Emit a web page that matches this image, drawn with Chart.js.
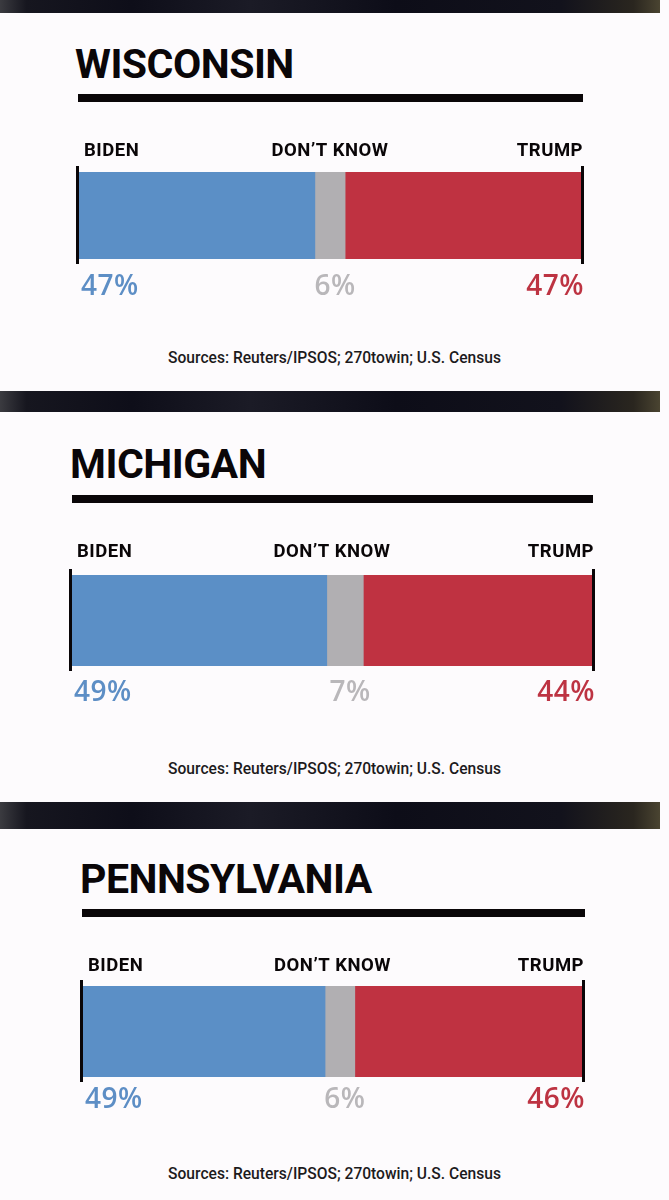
<!DOCTYPE html>
<html>
<head>
<meta charset="utf-8">
<script src="https://cdn.jsdelivr.net/npm/chart.js@4.4.0/dist/chart.umd.min.js"></script>
<style>
    html, body { margin: 0; padding: 0; background: #fdfbfd; }
    body {
        width: 669px; height: 1200px; position: relative; overflow: hidden;
        font-family: Roboto, "Liberation Sans", sans-serif;
    }
    .band {
        position: absolute; left: 0; width: 660px;
        background: linear-gradient(90deg, #3b3b40 0%, #16161f 4%, #0e0e19 20%, #1b1b26 38%, #0d0d18 60%, #12121c 85%, #2a261f 96%, #4a4431 100%);
    }
    .title {
        position: absolute; font-size: 41px; font-weight: 700; line-height: 41px;
        color: #0a0608; letter-spacing: -0.5px; white-space: nowrap;
    }
    .rule { position: absolute; height: 8px; background: #0a0608; }
    .source {
        position: absolute; left: 0; width: 669px; text-align: center;
        font-size: 15.6px; font-weight: 500; line-height: 16px; color: #1c1a1c;
    }
    canvas { position: absolute; left: 0; }
</style>
</head>
<body>
<script>
// Poll data (Reuters/IPSOS)
const states = ['WISCONSIN', 'MICHIGAN', 'PENNSYLVANIA'];
const candidates = ['BIDEN', 'DON\u2019T KNOW', 'TRUMP'];
const biden = [47, 49, 49];
const dontKnow = [6, 7, 6];
const trump = [47, 44, 46];
const sourceText = 'Sources: Reuters/IPSOS; 270towin; U.S. Census';

const barColors = ['#5b8fc6', '#b1afb2', '#bf3241'];
const valueColors = ['#5d8ec5', '#b9b7ba', '#bd3342'];

// Each panel is a separate screenshot, so the geometry shifts a little
const panels = [
    { bands: [0, 13],   titleX: 75, titleBase: 78,  rule: [78, 583, 94],  labelBase: 156, bar: [78, 582, 172, 259],  valueBase: 295,  sourceBase: 363 },
    { bands: [391, 412], titleX: 70, titleBase: 478, rule: [72, 593, 495], labelBase: 557, bar: [71, 593, 575, 666],  valueBase: 701,  sourceBase: 774 },
    { bands: [802, 829], titleX: 80, titleBase: 893, rule: [82, 585, 909], labelBase: 971, bar: [82, 583, 986, 1077], valueBase: 1108, sourceBase: 1179 }
];

document.addEventListener('DOMContentLoaded', function() {
    panels.forEach((p, i) => buildPanel(p, i));
});

function addDiv(cls, css, text) {
    const el = document.createElement('div');
    el.className = cls;
    Object.assign(el.style, css);
    if (text) el.textContent = text;
    document.body.appendChild(el);
    return el;
}

/**
 * Labels above the bar, values below, black end caps
 */
const barLabels = {
    id: 'barLabels',
    afterDatasetsDraw(chart, args, opts) {
        const { ctx, chartArea: a } = chart;
        ctx.save();

        // end caps
        ctx.fillStyle = '#0a0608';
        ctx.fillRect(a.left - 2, a.top - 6, 3, a.bottom - a.top + 11);
        ctx.fillRect(a.right - 1, a.top - 6, 3, a.bottom - a.top + 11);

        // candidate labels
        ctx.font = '700 18.5px Roboto, "Liberation Sans", sans-serif';
        ctx.letterSpacing = '0.5px';
        ctx.fillStyle = '#0a0608';
        ctx.textBaseline = 'alphabetic';
        ctx.textAlign = 'left';
        ctx.fillText(candidates[0], a.left + 6, opts.labelY);
        ctx.textAlign = 'center';
        ctx.fillText(candidates[1], (a.left + a.right) / 2, opts.labelY);
        ctx.textAlign = 'right';
        ctx.fillText(candidates[2], a.right + 1, opts.labelY);

        // values
        ctx.font = '600 28px "Open Sans", Roboto, sans-serif';
        ctx.letterSpacing = '0.5px';
        const grey = chart.getDatasetMeta(1).data[0].getProps(['x', 'base'], true);
        const vals = chart.data.datasets.map(d => d.data[0] + '%');
        ctx.fillStyle = valueColors[0];
        ctx.textAlign = 'left';
        ctx.fillText(vals[0], a.left + 3, opts.valueY);
        ctx.fillStyle = valueColors[1];
        ctx.textAlign = 'center';
        ctx.fillText(vals[1], (grey.x + grey.base) / 2 + 5, opts.valueY);
        ctx.fillStyle = valueColors[2];
        ctx.textAlign = 'right';
        ctx.fillText(vals[2], a.right + 2, opts.valueY);

        ctx.restore();
    }
};

function buildPanel(p, i) {
    addDiv('band', { top: p.bands[0] + 'px', height: (p.bands[1] - p.bands[0]) + 'px' });
    addDiv('title', { left: p.titleX + 'px', top: (p.titleBase - 34.5) + 'px' }, states[i]);
    addDiv('rule', { left: p.rule[0] + 'px', width: (p.rule[1] - p.rule[0]) + 'px', top: p.rule[2] + 'px' });
    addDiv('source', { top: (p.sourceBase - 13) + 'px' }, sourceText);

    const top = p.labelBase - 30;
    const height = p.valueBase + 15 - top;
    const canvas = document.createElement('canvas');
    canvas.width = 669;
    canvas.height = height;
    canvas.style.top = top + 'px';
    document.body.appendChild(canvas);

    const values = [biden[i], dontKnow[i], trump[i]];
    const total = values.reduce((s, v) => s + v, 0);

    new Chart(canvas.getContext('2d'), {
        type: 'bar',
        data: {
            labels: [states[i]],
            datasets: candidates.map((c, k) => ({
                label: c,
                data: [values[k]],
                backgroundColor: barColors[k],
                borderWidth: 0,
                barPercentage: 1,
                categoryPercentage: 1
            }))
        },
        options: {
            indexAxis: 'y',
            responsive: false,
            animation: false,
            devicePixelRatio: 1,
            layout: {
                padding: {
                    left: p.bar[0],
                    right: 669 - p.bar[1],
                    top: p.bar[2] - top,
                    bottom: top + height - p.bar[3]
                }
            },
            scales: {
                x: { stacked: true, min: 0, max: total, display: false },
                y: { stacked: true, display: false }
            },
            plugins: {
                legend: { display: false },
                tooltip: { enabled: false },
                barLabels: {
                    labelY: p.labelBase - top,
                    valueY: p.valueBase - top
                }
            }
        },
        plugins: [barLabels]
    });
}
</script>
</body>
</html>
